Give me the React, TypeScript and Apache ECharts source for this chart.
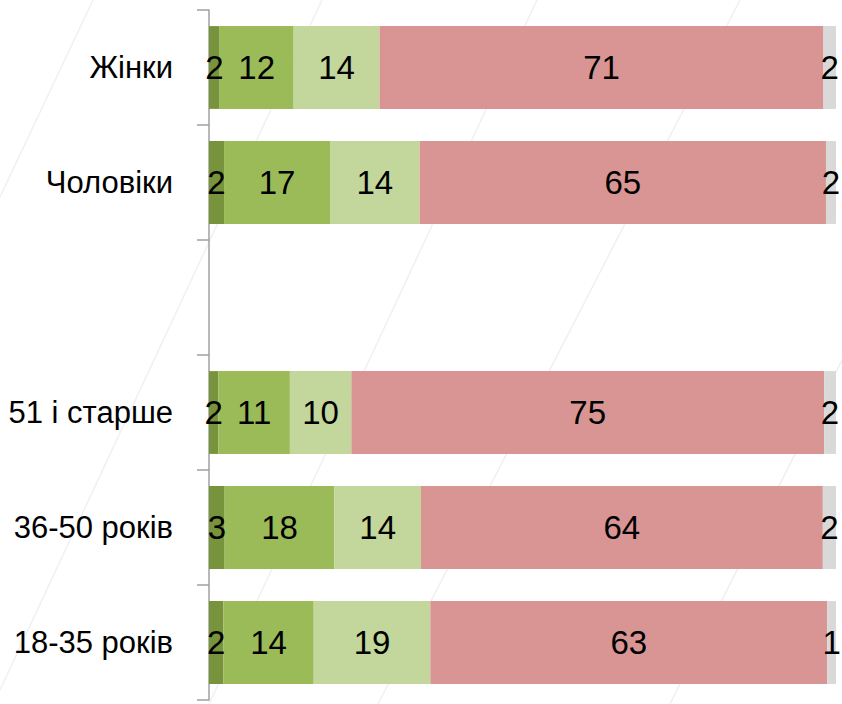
import React, { useEffect, useRef } from "react";
import * as echarts from "echarts";

const categories = ["18-35 років", "36-50 років", "51 і старше", "", "Чоловіки", "Жінки"];
const seriesNames = ["s1", "s2", "s3", "s4", "s5"];
const s1 = [2.3, 2.5, 1.5, null, 2.4, 1.7];
const s2 = [14.4, 17.5, 11.4, null, 16.9, 11.8];
const s3 = [18.6, 13.8, 9.8, null, 14.3, 13.7];
const s4 = [63.3, 64.1, 75.4, null, 64.8, 70.8];
const s5 = [1.4, 2.1, 1.9, null, 1.6, 2.0];
const colors = ["#77933c", "#9bbb59", "#c3d69b", "#d99594", "#d9d9d9"];

const FONT = "'Liberation Sans Narrow', 'Arial Narrow', 'Liberation Sans', Arial, sans-serif";

export default function App() {
  const ref = useRef<HTMLDivElement>(null);
  useEffect(() => {
    document.body.style.margin = "0";
    const chart = echarts.init(ref.current!, null, { renderer: "svg" });
    const data = [s1, s2, s3, s4, s5];
    const bgLines = [
      [[93, 0], [0, 197]],
      [[322, 0], [0, 690]],
      [[537, 0], [209, 704]],
      [[740, 0], [378, 704]],
      [[1022, 0], [670, 704]],
    ];
    chart.setOption({
      animation: false,
      backgroundColor: "#ffffff",
      graphic: bgLines.map((pts) => ({
        type: "polyline",
        silent: true,
        z: -10,
        shape: { points: pts },
        style: { stroke: "#f0f0f0", lineWidth: 1.5, fill: null },
      })),
      grid: { left: 209, right: 6, top: 10, bottom: 4, containLabel: false, outerBoundsMode: "none" },
      xAxis: { type: "value", min: 0, max: 100, show: false },
      yAxis: {
        type: "category",
        data: categories,
        axisLine: { show: true, lineStyle: { color: "#a0a0a0", width: 1.5 } },
        axisTick: { show: true, length: 12, lineStyle: { color: "#a0a0a0", width: 1.5 } },
        axisLabel: { margin: 36, fontSize: 31, color: "#000", fontFamily: FONT },
        splitLine: { show: false },
      },
      series: data.map((d, i) => ({
        name: seriesNames[i],
        type: "bar",
        stack: "total",
        data: d,
        barCategoryGap: "28%",
        itemStyle: { color: colors[i] },
        label: {
          show: true,
          position: "inside",
          color: "#000",
          fontSize: 33,
          fontFamily: FONT,
          formatter: (p: any) => String(Math.round(p.value)),
        },
      })),
    });
    return () => chart.dispose();
  }, []);
  return <div ref={ref} style={{ width: 842, height: 704 }} />;
}
